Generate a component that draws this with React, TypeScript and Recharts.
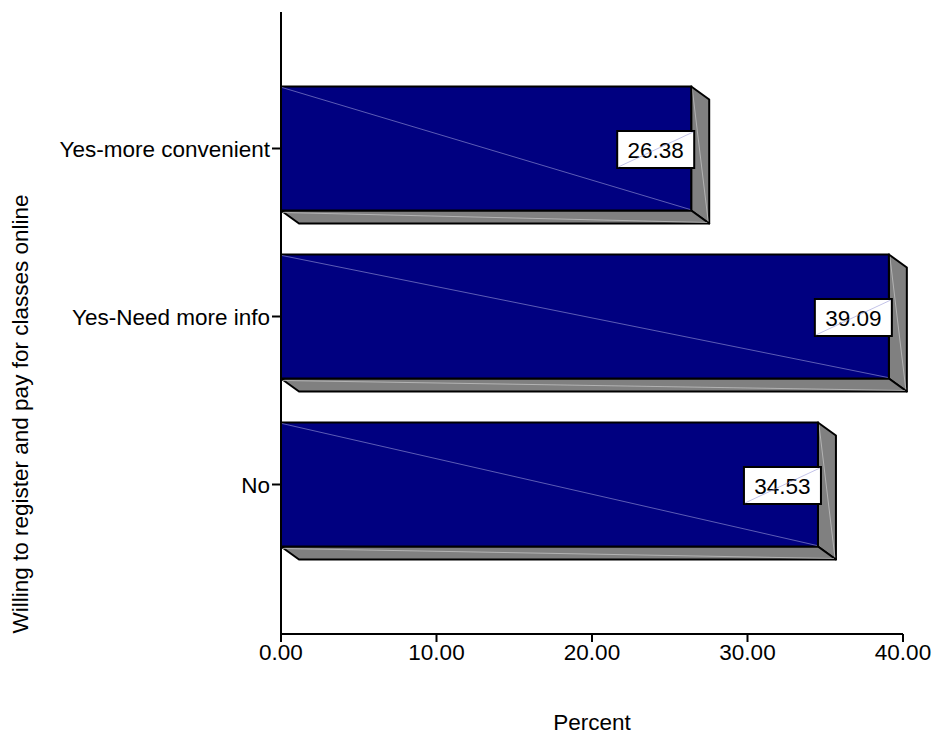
import React from 'react';
import { Bar, BarChart, Label, LabelList, XAxis, YAxis } from 'recharts';

const categories = ['Yes-more convenient', 'Yes-Need more info', 'No'];
const percents = [26.38, 39.09, 34.53];
const xTicks = [0, 10, 20, 30, 40];

const chartData = categories.map((name, i) => ({ name, percent: percents[i] }));

const FONT = '"Liberation Sans", Arial, sans-serif';
const FONT_SIZE = 22.5;
const DEPTH_X = 18;
const DEPTH_Y = 13;

const Bar3D = ({ x, y, width, height }: any) => {
    const right = x + width;
    const bottom = y + height;
    return (
        <g>
            <polygon
                points={`${right},${y} ${right + DEPTH_X},${y + DEPTH_Y} ${right + DEPTH_X},${bottom + DEPTH_Y} ${right},${bottom}`}
                fill="#808080"
                stroke="#000"
                strokeWidth={2}
                strokeLinejoin="round"
            />
            <polygon
                points={`${x},${bottom} ${x + DEPTH_X},${bottom + DEPTH_Y} ${right + DEPTH_X},${bottom + DEPTH_Y} ${right},${bottom}`}
                fill="#808080"
                stroke="#000"
                strokeWidth={2}
                strokeLinejoin="round"
            />
            <line x1={right + 1} y1={y + 2} x2={right + DEPTH_X - 1} y2={bottom + DEPTH_Y - 2} stroke="#c8c8c8" strokeWidth={0.7} />
            <line x1={x + 2} y1={bottom + 2} x2={right + DEPTH_X - 2} y2={bottom + DEPTH_Y - 1} stroke="#c8c8c8" strokeWidth={0.7} />
            <rect x={x} y={y} width={width} height={height} fill="#000080" stroke="#000" strokeWidth={2} />
            <line x1={x + 1} y1={y + 1} x2={right - 1} y2={bottom - 1} stroke="#9a9ad8" strokeWidth={0.6} />
        </g>
    );
};

const ValueBox = ({ x, y, width, height, value }: any) => {
    const boxRight = x + width + 3;
    const boxW = 77;
    const boxH = 37;
    const boxTop = y + height / 2 - boxH / 2 + 1;
    return (
        <g>
            <rect x={boxRight - boxW} y={boxTop} width={boxW} height={boxH} fill="#fff" stroke="#000" strokeWidth={2} />
            <text
                x={boxRight - boxW / 2}
                y={boxTop + boxH / 2 + 1}
                textAnchor="middle"
                dominantBaseline="central"
                fontFamily={FONT}
                fontSize={FONT_SIZE}
                fill="#000"
            >
                {Number(value).toFixed(2)}
            </text>
            <line
                x1={boxRight - boxW + 1}
                y1={boxTop + boxH - 1}
                x2={boxRight - 1}
                y2={boxTop + 1}
                stroke="#9a9ad8"
                strokeWidth={0.6}
            />
        </g>
    );
};

const YTitle = () => (
    <text
        x={20}
        y={414}
        transform="rotate(-90 20 414)"
        textAnchor="middle"
        dominantBaseline="central"
        fontFamily={FONT}
        fontSize={FONT_SIZE}
        fill="#000"
    >
        Willing to register and pay for classes online
    </text>
);

const App: React.FC = () => (
    <div style={{ position: 'absolute', left: 0, top: 0 }}>
        <BarChart
            width={933}
            height={736}
            data={chartData}
            layout="vertical"
            margin={{ top: 12, right: 30, bottom: 0, left: 0 }}
        >
            <XAxis
                type="number"
                domain={[0, 40]}
                ticks={xTicks}
                interval={0}
                height={102}
                tickFormatter={(v: number) => v.toFixed(2)}
                stroke="#000"
                strokeWidth={2}
                tickSize={8}
                tickMargin={2}
                tick={{ fill: '#000', fontFamily: FONT, fontSize: FONT_SIZE }}
                label={{ value: 'Percent', position: 'insideBottom', offset: 6, fill: '#000', fontFamily: FONT, fontSize: FONT_SIZE }}
            />
            <YAxis
                type="category"
                dataKey="name"
                width={281}
                interval={0}
                padding={{ top: 52.5, bottom: 65.5 }}
                stroke="#000"
                strokeWidth={2}
                tickSize={9}
                tickMargin={2}
                tick={{ fill: '#000', fontFamily: FONT, fontSize: FONT_SIZE, dy: 1 }}
            >
                <Label content={YTitle} />
            </YAxis>
            <Bar dataKey="percent" barSize={124} isAnimationActive={false} shape={Bar3D}>
                <LabelList dataKey="percent" content={ValueBox} />
            </Bar>
        </BarChart>
    </div>
);

export default App;
